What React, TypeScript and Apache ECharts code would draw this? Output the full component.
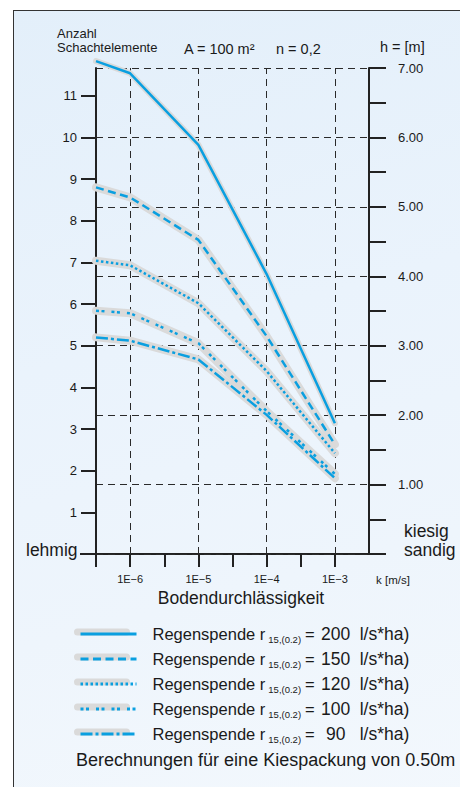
import React, { useEffect, useRef } from "react";
import * as echarts from "echarts";

// log10 of soil permeability k [m/s]
const kLog = [-6.5, -6, -5, -4, -3];
// number of shaft elements per rain intensity
const r200 = [11.83, 11.54, 9.82, 6.72, 3.14];
const r150 = [8.8, 8.56, 7.54, 5.23, 2.63];
const r120 = [7.04, 6.93, 6.02, 4.39, 2.42];
const r100 = [5.84, 5.78, 5.06, 3.43, 1.92];
const r90 = [5.2, 5.12, 4.67, 3.34, 1.82];
const rainNames = ["200", "150", "120", "100", "90"];
const leftTickValues = [1, 2, 3, 4, 5, 6, 7, 8, 9, 10, 11];
const xTickValues = [-6.5, -6, -5.5, -5, -4.5, -4, -3.5, -3];
const xLabelValues = [-6, -5, -4, -3];

const FONT = "'Liberation Sans', Arial, sans-serif";
const BLUE = "#0a9fe0";
const HALO = "#dadada";
const TXT = "#1a1a1a";

const dashes: any[] = ["solid", [8, 4.5], [2.5, 2.5], [3, 2.5, 3, 7], [12, 3, 3, 3]];
const seriesValues = [r200, r150, r120, r100, r90];

export default function App() {
  const ref = useRef<HTMLDivElement>(null);
  useEffect(() => {
    if (!ref.current) return;
    const chart = echarts.init(ref.current, null, { renderer: "svg" });
    const series: any[] = [];
    seriesValues.forEach((vals, i) => {
      const data = kLog.map((k, j) => [k, vals[j]]);
      series.push({
        name: "halo" + rainNames[i],
        type: "line",
        data,
        symbol: "none",
        silent: true,
        clip: false,
        z: 2,
        lineStyle: { color: HALO, width: i === 0 ? 6 : 8, cap: "round", join: "round" },
        ...(i === 0
          ? {
              markLine: {
                silent: true,
                symbol: "none",
                label: { show: false },
                lineStyle: { color: "#2a2a2a", width: 1, type: [7, 5] },
                data: xLabelValues.map((v) => ({ xAxis: v })),
                z: 1,
              },
            }
          : {}),
      });
    });
    seriesValues.forEach((vals, i) => {
      const data = kLog.map((k, j) => [k, vals[j]]);
      series.push({
        name: rainNames[i],
        type: "line",
        data,
        symbol: "none",
        clip: false,
        z: 3,
        color: BLUE,
        lineStyle: { color: BLUE, width: 2.5, type: dashes[i], cap: "butt", join: "round" },
      });
    });

    chart.setOption({
      animation: false,
      textStyle: { fontFamily: FONT },
      grid: { left: 96, right: 91, top: 68, bottom: 233 },
      xAxis: {
        type: "value",
        min: -6.5,
        max: -2.5,
        interval: 0.5,
        axisLine: { show: false },
        axisTick: { show: true, length: 13, customValues: xTickValues, lineStyle: { color: "#222", width: 2 } },
        axisLabel: {
          customValues: xLabelValues,
          margin: 19,
          fontSize: 11,
          color: TXT,
          fontFamily: FONT,
          formatter: (v: number) => (Number.isInteger(v) ? "1E\u2212" + -v : ""),
        },
        splitLine: { show: false },
      },
      yAxis: [
        {
          type: "value",
          position: "left",
          min: 0,
          max: 7 / 0.6,
          interval: 1,
          axisLine: { show: true, lineStyle: { color: "#222", width: 2 } },
          axisTick: { show: true, length: 15, customValues: leftTickValues, lineStyle: { color: "#222", width: 2 } },
          axisLabel: {
            customValues: leftTickValues,
            margin: 19,
            fontSize: 13,
            color: TXT,
            fontFamily: FONT,
            formatter: (v: number) => (Number.isInteger(v) && v > 0 ? String(v) : ""),
          },
          splitLine: { show: false },
        },
        {
          type: "value",
          position: "right",
          min: 0,
          max: 7,
          interval: 1,
          axisLine: { show: true, lineStyle: { color: "#222", width: 2 } },
          axisTick: { show: true, length: 17, lineStyle: { color: "#222", width: 2 } },
          minorTick: { show: true, splitNumber: 2, length: 17, lineStyle: { color: "#222", width: 2 } },
          axisLabel: {
            margin: 29,
            fontSize: 13,
            color: TXT,
            fontFamily: FONT,
            formatter: (v: number) => (v === 0 ? "" : v.toFixed(2)),
          },
          splitLine: { show: true, lineStyle: { color: "#2a2a2a", width: 1, type: [7, 5] } },
        },
      ],
      legend: {
        data: rainNames,
        orient: "vertical",
        left: 74,
        top: 619,
        itemWidth: 56,
        itemHeight: 14,
        itemGap: 5,
        selectedMode: false,
        itemStyle: { opacity: 0 },
        lineStyle: { width: 3 },
        formatter: (name: string) =>
          "Regenspende r{sub|15,(0.2)}{eq|=}{num|" + name + "}{unit|l/s*ha)}",
        textStyle: {
          fontSize: 16.5,
          lineHeight: 20,
          color: TXT,
          fontFamily: FONT,
          padding: [0, 0, 0, 11],
          rich: {
            sub: { fontSize: 9.5, lineHeight: 8, verticalAlign: "bottom", color: TXT, fontFamily: FONT, padding: [0, 4, 0, 3] },
            eq: { fontSize: 16.5, lineHeight: 20, color: TXT, fontFamily: FONT },
            num: { fontSize: 17.5, lineHeight: 20, width: 42, align: "right", color: TXT, fontFamily: FONT },
            unit: { fontSize: 17.5, lineHeight: 20, color: TXT, fontFamily: FONT, padding: [0, 0, 0, 3] },
          },
        },
      },
      graphic: [
        ...rainNames.map((n, i) => ({
          type: "rect",
          z: 0,
          silent: true,
          shape: { x: 74, y: 628.5 + i * 25, width: 56, height: 7, r: 3.5 },
          style: { fill: HALO },
        })),
        {
          type: "line",
          silent: true,
          shape: { x1: 80, y1: 554, x2: 386, y2: 554 },
          style: { stroke: "#222", lineWidth: 2 },
        },
        { type: "text", x: 57, y: 33, style: { text: "Anzahl", fontSize: 13, fontFamily: FONT, fill: TXT, verticalAlign: "middle" } },
        { type: "text", x: 57, y: 47, style: { text: "Schachtelemente", fontSize: 13, fontFamily: FONT, fill: TXT, verticalAlign: "middle" } },
        { type: "text", x: 184, y: 49, style: { text: "A = 100 m\u00B2", fontSize: 14.5, fontFamily: FONT, fill: TXT, verticalAlign: "middle" } },
        { type: "text", x: 276, y: 49, style: { text: "n = 0,2", fontSize: 14.5, fontFamily: FONT, fill: TXT, verticalAlign: "middle" } },
        { type: "text", x: 380, y: 47, style: { text: "h = [m]", fontSize: 14.5, fontFamily: FONT, fill: TXT, verticalAlign: "middle" } },
        { type: "text", x: 26, y: 550, style: { text: "lehmig", fontSize: 17.5, fontFamily: FONT, fill: TXT, verticalAlign: "middle" } },
        { type: "text", x: 404, y: 531, style: { text: "kiesig", fontSize: 17.5, fontFamily: FONT, fill: TXT, verticalAlign: "middle" } },
        { type: "text", x: 404, y: 550, style: { text: "sandig", fontSize: 17.5, fontFamily: FONT, fill: TXT, verticalAlign: "middle" } },
        { type: "text", x: 376, y: 580, style: { text: "k [m/s]", fontSize: 11.5, fontFamily: FONT, fill: TXT, verticalAlign: "middle" } },
        { type: "text", x: 241, y: 598, style: { text: "Bodendurchlässigkeit", fontSize: 17.5, fontFamily: FONT, fill: TXT, align: "center", verticalAlign: "middle" } },
        { type: "text", x: 76, y: 760, style: { text: "Berechnungen für eine Kiespackung von 0.50m", fontSize: 18, fontFamily: FONT, fill: TXT, verticalAlign: "middle" } },
      ],
      series,
    });
    return () => chart.dispose();
  }, []);

  return (
    <div style={{ position: "fixed", left: 0, top: 0, width: 460, height: 787, background: "#ffffff", overflow: "hidden" }}>
      <div
        style={{
          position: "absolute",
          left: 13,
          top: 10,
          width: 460,
          height: 790,
          borderLeft: "1.5px solid #333",
          borderTop: "1.5px solid #333",
          background: "linear-gradient(165deg, #e3effa 0%, #eaf3fc 40%, #eef5fc 70%, #f3f8fd 100%)",
        }}
      />
      <div ref={ref} style={{ position: "absolute", left: 0, top: 0, width: 460, height: 787 }} />
    </div>
  );
}
